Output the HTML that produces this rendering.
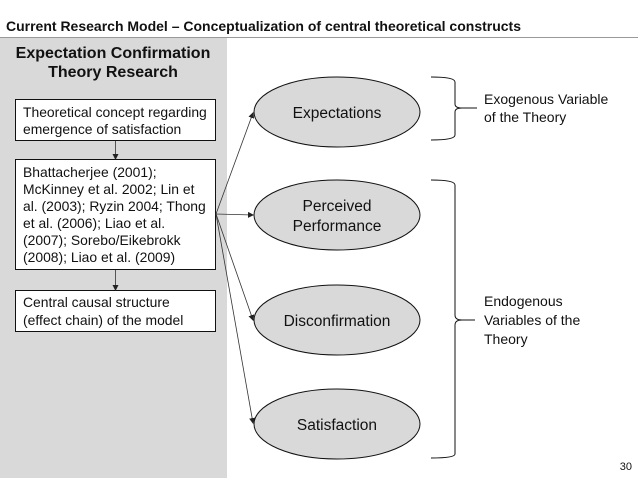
<!DOCTYPE html>
<html><head><style>
body{margin:0;width:638px;height:479px;background:#fff;overflow:hidden;font-family:"Liberation Sans",sans-serif;}
</style></head><body>
<svg width="638" height="479" xmlns="http://www.w3.org/2000/svg" font-family="Liberation Sans, sans-serif">
<defs><marker id="a" markerWidth="6" markerHeight="6" refX="5" refY="3" orient="auto" markerUnits="userSpaceOnUse"><path d="M0,0 L6,3 L0,6z" fill="#222"/></marker></defs>
<text x="6" y="31" font-size="14" font-weight="bold" fill="#111">Current Research Model – Conceptualization of central theoretical constructs</text>
<line x1="0" y1="37.5" x2="638" y2="37.5" stroke="#999" stroke-width="1"/>
<rect x="0" y="38" width="227" height="440" fill="#d9d9d9"/>
<text x="113" y="58" font-size="16" font-weight="bold" text-anchor="middle" fill="#111">Expectation Confirmation</text>
<text x="113" y="77" font-size="16" font-weight="bold" text-anchor="middle" fill="#111">Theory Research</text>
<g fill="#fff" stroke="#111" stroke-width="1">
<rect x="15.5" y="99.5" width="200" height="41"/>
<rect x="15.5" y="159.5" width="200" height="110"/>
<rect x="15.5" y="290.5" width="200" height="41"/>
</g>
<g stroke="#333" stroke-width="0.8" fill="none" marker-end="url(#a)">
<line x1="115.5" y1="141" x2="115.5" y2="159"/>
<line x1="115.5" y1="270" x2="115.5" y2="290"/>
<line x1="216" y1="214" x2="253" y2="113"/>
<line x1="216" y1="214" x2="253" y2="215"/>
<line x1="216" y1="214" x2="253" y2="320"/>
<line x1="216" y1="214" x2="253" y2="423"/>
</g>
<g font-size="13.9" fill="#111">
<text x="23" y="117">Theoretical concept regarding</text>
<text x="23" y="134">emergence of satisfaction</text>
<text x="23" y="177">Bhattacherjee (2001);</text>
<text x="23" y="194">McKinney et al. 2002; Lin et</text>
<text x="23" y="211">al. (2003); Ryzin 2004; Thong</text>
<text x="23" y="228">et al. (2006); Liao et al.</text>
<text x="23" y="245">(2007); Sorebo/Eikebrokk</text>
<text x="23" y="262">(2008); Liao et al. (2009)</text>
<text x="23" y="307">Central causal structure</text>
<text x="23" y="325">(effect chain) of the model</text>
</g>
<g fill="#d9d9d9" stroke="#111" stroke-width="1">
<ellipse cx="337" cy="112" rx="83" ry="35"/>
<ellipse cx="337" cy="215" rx="83" ry="35"/>
<ellipse cx="337" cy="320" rx="83" ry="35"/>
<ellipse cx="337" cy="424" rx="83" ry="35"/>
</g>
<g font-size="15.5" fill="#111" text-anchor="middle">
<text x="337" y="118">Expectations</text>
<text x="337" y="211">Perceived</text>
<text x="337" y="231">Performance</text>
<text x="337" y="326">Disconfirmation</text>
<text x="337" y="430">Satisfaction</text>
</g>
<g stroke="#111" stroke-width="1" fill="none">
<path d="M431,77 Q455,77 455,82 L455,104 Q455,108 462,108 L477,108 M462,108 Q455,108 455,112 L455,135 Q455,140 431,140"/>
<path d="M431,180 Q455,180 455,185 L455,315 Q455,320 462,320 L475,320 M462,320 Q455,320 455,325 L455,454 Q455,458 431,458"/>
</g>
<g font-size="14" fill="#111">
<text x="484" y="104">Exogenous Variable</text>
<text x="484" y="122">of the Theory</text>
<text x="484" y="306">Endogenous</text>
<text x="484" y="325">Variables of the</text>
<text x="484" y="344">Theory</text>
</g>
<text x="632" y="470" font-size="11" fill="#111" text-anchor="end">30</text>
</svg>
</body></html>
